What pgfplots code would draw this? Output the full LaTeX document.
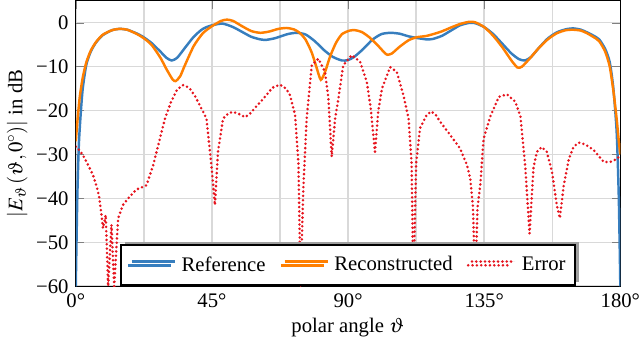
\documentclass[11pt,border=0pt]{standalone}
\usepackage{mathptmx}
\usepackage{fontspec}
\setmainfont{Liberation Serif}
\usepackage{pgfplots}
\pgfplotsset{compat=1.18}
\usetikzlibrary{shadows}

\definecolor{refblue}{RGB}{55,126,190}
\definecolor{recorange}{RGB}{255,127,0}
\definecolor{errred}{RGB}{230,20,30}

\begin{document}
\begin{tikzpicture}
\begin{axis}[
  scale only axis,
  width=288pt, height=151pt,
  xmin=0, xmax=180, ymin=-60, ymax=5,
  xtick={0,45,90,135,180},
  xticklabels={0°,45°,90°,135°,180°},
  xticklabel style={inner xsep=0pt},
  minor xtick={22.5,67.5,112.5,157.5},
  ytick={-60,-50,...,0},
  yticklabels={−60,−50,−40,−30,−20,−10,0},
  grid=both,
  major grid style={gray!30, line width=0.8pt},
  minor grid style={gray!30, line width=0.8pt},
  minor tick length=0pt,
  axis line style={line width=0.6pt},
  xlabel={polar angle $\vartheta$},
  ylabel={$|E_\vartheta\,(\vartheta,0^\circ)|$ in dB},
  xlabel shift=-2pt,
  ylabel shift=-3pt,
  legend columns=3,
  legend cell align=left,
  legend image code/.code={\draw[#1] (0cm,0cm) -- (0.8cm,0cm);},
  legend style={at={(0.5,0)}, anchor=south, draw=black, line width=1pt,
    fill=white, inner xsep=3pt, inner ysep=4pt,
    nodes={inner sep=1.9pt},
    drop shadow={shadow xshift=2pt, shadow yshift=2pt, fill=gray!75, opacity=1},
    /tikz/every odd column/.append style={column sep=3pt},
    /tikz/every even column/.append style={column sep=5.5pt}},
]
\addplot[refblue, line width=1.3pt, smooth, tension=0.4] coordinates {
(0,-60) (0.5,-40) (1,-28) (1.6,-21) (2.3,-15) (3.5,-9.5) (5,-6.5) (6.8,-4.4)
(9,-2.8) (12,-1.7) (14.6,-1.4) (17,-1.6) (20,-2.4) (22.2,-3.2) (25,-4.6)
(28,-6.6) (30,-8) (31.7,-8.6) (33.5,-8.0) (36,-5.8) (39,-3.2) (42,-1.4)
(45,-0.6) (48.5,-0.2) (52,-1.0) (55,-2.1) (58,-3.2) (61,-3.8) (63,-3.9)
(66,-3.5) (70,-2.6) (73,-2.3) (76,-2.7) (79,-4.2) (82,-6.2) (85,-7.8)
(88,-8.6) (90,-8.5) (92,-7.8) (95,-6.0) (98,-3.9) (101,-2.6) (104,-2.3)
(107,-2.5) (110,-3.1) (113,-3.5) (116,-3.8) (118,-3.7) (121,-3.0) (124,-1.8)
(127,-0.6) (130,-0.05) (132,-0.1) (135,-1.0) (138,-2.6) (141,-4.8) (144,-7.0)
(146.5,-8.3) (148.5,-8.6) (150.5,-7.8) (153,-5.8) (156,-3.6) (159,-2.2)
(162,-1.5) (164.5,-1.3) (167,-1.6) (169,-2.2) (171,-2.9) (173,-3.8) (175,-6.0)
(176.5,-9) (177.7,-15) (178.8,-25) (179.5,-40) (180,-60)
};
\addlegendentry{Reference}
\addplot[recorange, line width=1.3pt, smooth, tension=0.4] coordinates {
(0,-27) (0.6,-22) (1.3,-17) (2.3,-12.5) (3.5,-9) (5,-6.3) (6.8,-4.3) (9,-2.7)
(12,-1.7) (14.6,-1.4) (17,-1.6) (20,-2.5) (22.2,-3.4) (25,-5) (28,-8)
(30,-10.6) (32,-12.9) (33,-13.3) (34.5,-12.2) (36,-9.8) (39,-5.3) (42,-2.4)
(45,-0.8) (48,0.4) (50,0.7) (52,0.4) (55,-0.8) (58,-1.9) (61,-2.3) (64,-2.0)
(67,-1.4) (69.7,-1.2) (72,-1.5) (74,-2.3) (76,-3.9) (78,-6.8) (79.5,-10)
(81,-13) (82.5,-11) (84,-7.8) (86,-4.6) (88,-2.6) (90.5,-1.8) (92.3,-1.7)
(94.5,-2.1) (97,-3.3) (100,-5.3) (102,-6.8) (103,-7.3) (104.5,-7.0) (107,-5.5)
(110,-4.0) (112.7,-3.3) (116,-3.0) (120.5,-2.1) (124,-1.1) (127,-0.3) (130,0.2)
(132,0.1) (135,-1.0) (138,-3.0) (141,-5.6) (144,-8.6) (146,-10.2) (147.5,-10.0)
(150,-8.2) (153,-5.8) (156,-3.8) (159,-2.4) (162,-1.7) (164.5,-1.6) (167,-1.8)
(169,-2.4) (171,-3.2) (173,-4.2) (175,-6.6) (176.5,-10) (177.7,-15.5)
(178.8,-22) (179.5,-27) (180,-30)
};
\addlegendentry{Reconstructed}
\addplot[errred, line width=1.5pt, line cap=round, dash pattern=on 0pt off 2.3pt] coordinates {
(0,-28.2) (1.2,-29) (2.4,-30.2) (4,-32.3) (5.7,-34.7) (7,-37.5) (7.7,-39.6)
(8.5,-43.8) (9,-46.8) (9.9,-43.8) (10.7,-60) (11.8,-46) (12.7,-60) (14,-44.5)
(15.6,-41.5) (17.3,-40) (20,-38) (23.4,-37) (25.6,-32.4) (27.8,-26.4)
(29.5,-21.8) (31.5,-18) (33.5,-15.2) (35.5,-14.2) (37.5,-14.8) (39.5,-16.8)
(41.5,-19.5) (43.2,-21.8) (44.9,-33) (46,-41.5) (47,-29.4) (48.7,-21.8)
(50.5,-20.6) (52,-20.3) (54,-20.8) (56,-21.5) (57.6,-20.7) (60,-18.8)
(62,-17.3) (65,-14.8) (67.5,-14.1) (69.5,-15) (70.8,-16.5) (72.5,-21)
(73.6,-32) (74.3,-60) (75.2,-38) (76.3,-22) (78,-9.7) (80.2,-8.2) (82.4,-11.2)
(83.5,-17.3) (84.6,-30.5) (85.7,-22) (86.8,-17.3) (88.4,-9.7) (91.2,-7.4)
(94,-8.9) (96.2,-13.5) (97.5,-19.5) (98.9,-29.4) (100,-20) (101.2,-15)
(103.9,-10.1) (106.1,-11.2) (108.3,-16.5) (110,-21.8) (111,-32) (111.6,-60)
(112.5,-32) (113.8,-24) (116,-21) (117.5,-20.2) (119,-21) (120.5,-22.6)
(123.8,-25.6) (127,-28.6) (129.3,-32.4) (130.4,-35.5) (131.3,-42) (132,-60)
(132.8,-42) (133.7,-37) (134.8,-26.4) (137,-21.4) (139.8,-16.9) (142.5,-16.3)
(145.3,-18) (147,-21.4) (148.6,-33) (150,-48) (151.3,-33) (152.4,-29.4)
(154,-28.3) (155.7,-29.4) (157.4,-33.9) (159,-41.5) (160,-44.5) (161.3,-37)
(163,-31) (164.5,-28.3) (166.2,-27.3) (168.4,-27.7) (171.2,-29) (174.5,-31.7)
(176.7,-31.7) (178.9,-31) (180,-30.2)
};
\addlegendentry{Error}
\end{axis}
\end{tikzpicture}
\end{document}
